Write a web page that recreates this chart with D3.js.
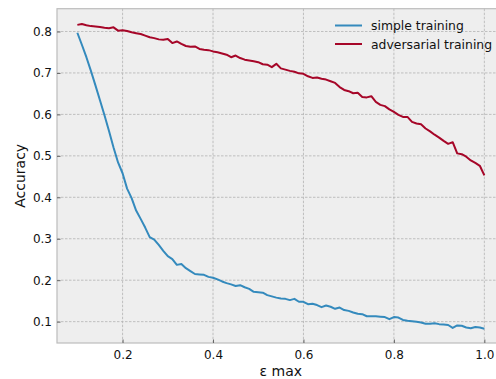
<!DOCTYPE html>
<html>
<head>
<meta charset="utf-8">
<script src="https://cdn.jsdelivr.net/npm/d3@7"></script>
<style>
  body { margin: 0; background: #fff; }
  svg text { font-family: "DejaVu Sans", sans-serif; fill: #111; }
</style>
</head>
<body>
<svg id="chart" width="496" height="379"></svg>
<script>
// epsilon values 0.10 .. 1.00, step 0.01
var epsMax = d3.range(91).map(function(i) { return +(0.1 + i * 0.01).toFixed(2); });

var simpleAcc = [
  0.797, 0.768, 0.738, 0.705, 0.670, 0.634, 0.598, 0.560, 0.520, 0.484,
  0.458, 0.421, 0.398, 0.368, 0.348, 0.327, 0.304, 0.298, 0.285, 0.271,
  0.258, 0.251, 0.237, 0.239, 0.229, 0.222, 0.215, 0.214, 0.213, 0.208,
  0.206, 0.202, 0.197, 0.193, 0.190, 0.186, 0.188, 0.183, 0.179, 0.172,
  0.171, 0.170, 0.164, 0.161, 0.158, 0.156, 0.155, 0.152, 0.155, 0.148,
  0.148, 0.142, 0.143, 0.140, 0.135, 0.139, 0.136, 0.131, 0.134, 0.128,
  0.126, 0.122, 0.119, 0.118, 0.113, 0.113, 0.113, 0.112, 0.111, 0.106,
  0.111, 0.110, 0.104, 0.102, 0.101, 0.100, 0.098, 0.095, 0.095, 0.096,
  0.094, 0.093, 0.092, 0.085, 0.091, 0.090, 0.086, 0.084, 0.087, 0.086,
  0.083
];

var advAcc = [
  0.816, 0.818, 0.815, 0.813, 0.812, 0.811, 0.809, 0.808, 0.810, 0.802,
  0.803, 0.801, 0.798, 0.796, 0.794, 0.790, 0.786, 0.784, 0.781, 0.780,
  0.782, 0.772, 0.776, 0.770, 0.765, 0.763, 0.764, 0.758, 0.756, 0.755,
  0.752, 0.750, 0.747, 0.744, 0.738, 0.742, 0.736, 0.732, 0.730, 0.728,
  0.726, 0.721, 0.720, 0.714, 0.722, 0.711, 0.708, 0.705, 0.703, 0.699,
  0.698, 0.692, 0.688, 0.689, 0.686, 0.684, 0.680, 0.676, 0.666, 0.659,
  0.656, 0.651, 0.652, 0.642, 0.641, 0.644, 0.630, 0.623, 0.620, 0.612,
  0.606, 0.599, 0.594, 0.594, 0.582, 0.578, 0.576, 0.566, 0.559, 0.551,
  0.544, 0.536, 0.529, 0.533, 0.506, 0.504, 0.498, 0.489, 0.483, 0.476,
  0.453
];

var seriesNames = ["simple training", "adversarial training"];
var seriesColors = ["#348ABD", "#A60628"];
var xTicks = [0.2, 0.4, 0.6, 0.8, 1.0];
var yTicks = [0.1, 0.2, 0.3, 0.4, 0.5, 0.6, 0.7, 0.8];

var plot = { left: 57, top: 8.7, right: 504.7, bottom: 343 };

var svg = d3.select("#chart");

var x = d3.scaleLinear().domain([0.055, 1.045]).range([plot.left, plot.right]);
var y = d3.scaleLinear().domain([0.0485, 0.855]).range([plot.bottom, plot.top]);

// background
svg.append("rect")
    .attr("x", plot.left).attr("y", plot.top)
    .attr("width", plot.right - plot.left).attr("height", plot.bottom - plot.top)
    .attr("fill", "#eeeeee");

// grid
var grid = svg.append("g").attr("stroke", "#b2b2b2").attr("stroke-width", 0.8)
    .attr("stroke-dasharray", "2.5,1.5");
grid.selectAll(".gx").data(xTicks).enter().append("line")
    .attr("x1", function(d) { return x(d); }).attr("x2", function(d) { return x(d); })
    .attr("y1", plot.top).attr("y2", plot.bottom);
grid.selectAll(".gy").data(yTicks).enter().append("line")
    .attr("y1", function(d) { return y(d); }).attr("y2", function(d) { return y(d); })
    .attr("x1", plot.left).attr("x2", plot.right);

// lines
var line = d3.line()
    .x(function(d, i) { return x(epsMax[i]); })
    .y(function(d) { return y(d); });

[simpleAcc, advAcc].forEach(function(s, k) {
    svg.append("path")
        .datum(s)
        .attr("fill", "none")
        .attr("stroke", seriesColors[k])
        .attr("stroke-width", 2)
        .attr("stroke-linejoin", "round")
        .attr("d", line);
});

// frame
svg.append("rect")
    .attr("x", plot.left).attr("y", plot.top)
    .attr("width", plot.right - plot.left).attr("height", plot.bottom - plot.top)
    .attr("fill", "none").attr("stroke", "#bcbcbc").attr("stroke-width", 1.2);

// axes
var xAxis = svg.append("g")
    .attr("transform", "translate(0," + plot.bottom + ")")
    .call(d3.axisBottom(x).tickValues(xTicks).tickFormat(d3.format(".1f"))
        .tickSizeInner(-3.5).tickSizeOuter(0).tickPadding(7));
var yAxis = svg.append("g")
    .attr("transform", "translate(" + plot.left + ",0)")
    .call(d3.axisLeft(y).tickValues(yTicks).tickFormat(d3.format(".1f"))
        .tickSizeInner(-3.5).tickSizeOuter(0).tickPadding(5));

[xAxis, yAxis].forEach(function(a) {
    a.select(".domain").remove();
    a.selectAll(".tick line").attr("stroke", "#666");
    a.selectAll(".tick text").attr("font-size", 12).attr("font-family", "DejaVu Sans").attr("fill", "#111");
});

// axis labels
svg.append("text")
    .attr("x", (plot.left + plot.right) / 2).attr("y", 376)
    .attr("text-anchor", "middle").attr("font-size", 14)
    .text("ε max");
svg.append("text")
    .attr("transform", "translate(25," + ((plot.top + plot.bottom) / 2) + ") rotate(-90)")
    .attr("text-anchor", "middle").attr("font-size", 14)
    .text("Accuracy");

// legend
var legend = svg.append("g");
seriesNames.forEach(function(name, i) {
    var ly = 25.5 + i * 18.5;
    legend.append("line")
        .attr("x1", 335).attr("x2", 362).attr("y1", ly).attr("y2", ly)
        .attr("stroke", seriesColors[i]).attr("stroke-width", 2);
    legend.append("text")
        .attr("x", 371).attr("y", ly + 4.5)
        .attr("font-size", 12.4)
        .text(name);
});
</script>
</body>
</html>
